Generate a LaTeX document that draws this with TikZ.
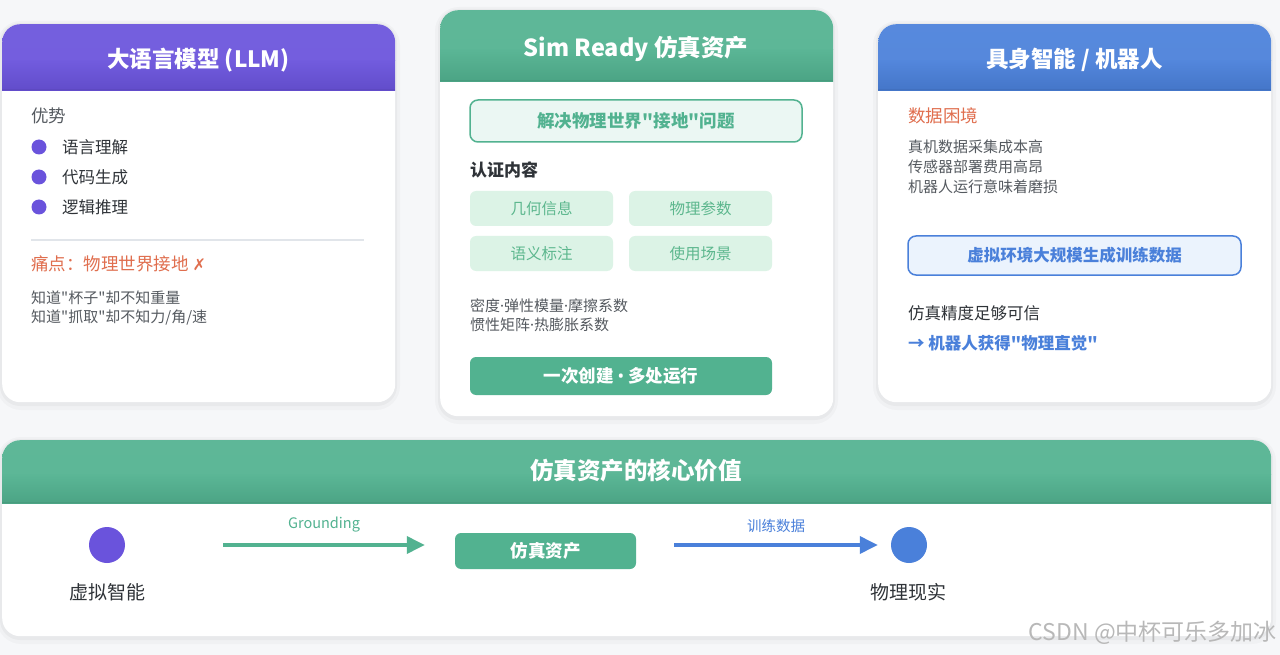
\documentclass[tikz,border=0pt]{standalone}
\usepackage{fontspec}
\setmainfont{Noto Sans CJK SC}[Ligatures=TeXOff]
\newfontfamily\latf{Noto Sans}[Ligatures=TeXOff]
\newfontfamily\symf{DejaVu Sans}
\usetikzlibrary{arrows.meta}
\definecolor{bgc}{HTML}{F6F7F9}
\definecolor{pur}{HTML}{6A53DC}
\definecolor{grn}{HTML}{52B290}
\definecolor{blu}{HTML}{4A80DA}
\definecolor{org}{HTML}{E06E4E}
\definecolor{txg}{HTML}{555A60}
\definecolor{txd}{HTML}{2F3338}
\definecolor{chipf}{HTML}{DCF3E6}
\definecolor{chipt}{HTML}{5DB78E}
\definecolor{gbox}{HTML}{EBF7F3}
\definecolor{bbox}{HTML}{EBF3FD}
\definecolor{rulec}{HTML}{E1E5EA}
\newcommand\fsz[1]{\fontsize{#1}{#1}\selectfont}
\newcommand\md{{\latf ·}}
\newcommand\softshadow[4]{%
  \fill[black,opacity=.022,rounded corners=24pt] (#1-5,#2-3) rectangle (#1+#3+5,#2+#4+8);
  \fill[black,opacity=.03,rounded corners=20pt] (#1-2,#2-1) rectangle (#1+#3+2,#2+#4+4);}
\tikzset{
  card/.style 2 args={anchor=north west, inner sep=0, fill=white, rounded corners=18pt,
    path picture={
      \shade[sharp corners, top color=#1!93!white, bottom color=#1!98!white]
        (path picture bounding box.north west) rectangle ([yshift={-#2*0.55pt}]path picture bounding box.north east);
      \shade[sharp corners, top color=#1!95!white, bottom color=#1!92!black]
        ([yshift={-#2*0.55pt}]path picture bounding box.north west) rectangle ([yshift={-#2*1pt}]path picture bounding box.north east);
      \fill[sharp corners, #1!80!black, opacity=.35] ([yshift={-#2*1pt+1.2pt}]path picture bounding box.north west) rectangle ([yshift={-#2*1pt}]path picture bounding box.north east);
    }},
  ttl/.style={text=white, font=\bfseries\fsz{22.5}, inner sep=0},
  txt/.style={anchor=west, inner sep=0},
  dot/.style={circle, fill=pur, minimum size=15pt, inner sep=0},
  chip/.style={fill=chipf, rounded corners=6pt, minimum width=143pt, minimum height=35pt, inner sep=0, text=chipt, font=\fsz{15.5}},
  garrow/.style={draw=grn, line width=3.5pt, -{Triangle[length=18pt,width=17pt]}},
  barrow/.style={draw=blu, line width=3.5pt, -{Triangle[length=18pt,width=17pt]}},
}
\begin{document}
\begin{tikzpicture}[x=1pt,y=-1pt]
\useasboundingbox (0,0) rectangle (1280,655);
\fill[bgc] (0,0) rectangle (1280,655);
% shadows
\softshadow{2}{24}{393}{378}
\softshadow{440}{10}{393}{406}
\softshadow{878}{24}{393}{378}
\softshadow{2}{440}{1269}{196}
% ---------- card 1 ----------
\node[card={pur}{66}, minimum width=393pt, minimum height=378pt] (llm) at (2,24) {};
\node[ttl] (llmt) at (198.5,60) {大语言模型 (LLM)};
\node[txt, text=txg, font=\fsz{17.5}] (adv) at (31,116) {优势};
\node[dot] (b1) at (39,147) {};
\node[dot] (b2) at (39,177) {};
\node[dot] (b3) at (39,207) {};
\node[txt, text=txd, font=\fsz{16.5}] (i1) at (62,147) {语言理解};
\node[txt, text=txd, font=\fsz{16.5}] (i2) at (62,177) {代码生成};
\node[txt, text=txd, font=\fsz{16.5}] (i3) at (62,207) {逻辑推理};
\draw[rulec, line width=1.5pt] (31,240) -- (364,240);
\node[txt, text=org, font=\fsz{17.5}] (pain) at (31,264) {痛点：物理世界接地 {\symf\fsz{16}✗}};
\node[txt, text=txg, font=\fsz{15}] (p1) at (31,298) {知道"杯子"却不知重量};
\node[txt, text=txg, font=\fsz{15}] (p2) at (31,318) {知道"抓取"却不知力/角/速};
% ---------- card 2 ----------
\node[card={grn}{71}, minimum width=393pt, minimum height=406pt] (sim) at (440,10) {};
\node[ttl, font=\bfseries\fsz{23.5}] (simt) at (636,49) {Sim Ready 仿真资产};
\node[draw=grn, line width=1.5pt, fill=gbox, rounded corners=8pt, minimum width=332pt, minimum height=42pt, inner sep=0,
      text=grn, font=\bfseries\fsz{17.5}] (solve) at (636,121) {解决物理世界"接地"问题};
\node[txt, text=txd, font=\bfseries\fsz{17}] (cert) at (470,170) {认证内容};
\node[chip] (c1) at (541.5,208.5) {几何信息};
\node[chip] (c2) at (700.5,208.5) {物理参数};
\node[chip] (c3) at (541.5,253.5) {语义标注};
\node[chip] (c4) at (700.5,253.5) {使用场景};
\node[txt, text=txg, font=\fsz{15}] (m1) at (470,306) {密度\md 弹性模量\md 摩擦系数};
\node[txt, text=txg, font=\fsz{15}] (m2) at (470,325) {惯性矩阵\md 热膨胀系数};
\node[fill=grn, rounded corners=6pt, minimum width=302pt, minimum height=38pt, inner sep=0,
      text=white, font=\bfseries\fsz{17.5}] (once) at (621,376) {一次创建 {\latf\bfseries •} 多处运行};
% ---------- card 3 ----------
\node[card={blu}{66}, minimum width=393pt, minimum height=378pt] (emb) at (878,24) {};
\node[ttl] (embt) at (1074.5,60) {具身智能 / 机器人};
\node[txt, text=org, font=\fsz{17.5}] (dil) at (908,116) {数据困境};
\node[txt, text=txg, font=\fsz{15}] (d1) at (908,147) {真机数据采集成本高};
\node[txt, text=txg, font=\fsz{15}] (d2) at (908,167) {传感器部署费用高昂};
\node[txt, text=txg, font=\fsz{15}] (d3) at (908,187) {机器人运行意味着磨损};
\node[draw=blu, line width=1.5pt, fill=bbox, rounded corners=8pt, minimum width=333pt, minimum height=39pt, inner sep=0,
      text=blu, font=\bfseries\fsz{16.5}] (virt) at (1074.5,255.5) {虚拟环境大规模生成训练数据};
\node[txt, text=txd, font=\fsz{16.5}] (prec) at (908,313) {仿真精度足够可信};
\node[txt, text=blu, font=\bfseries\fsz{16.5}] (intu) at (908,343) {→ 机器人获得"物理直觉"};
% ---------- bottom card ----------
\node[card={grn}{63}, minimum width=1269pt, minimum height=196pt] (core) at (2,440) {};
\node[ttl, font=\bfseries\fsz{23.5}] (coret) at (636,471) {仿真资产的核心价值};
\node[circle, fill=pur, minimum size=36pt, inner sep=0] (vdot) at (107,545) {};
\node[text=txd, font=\fsz{19}, inner sep=0] (vlab) at (107,592) {虚拟智能};
\node[fill=grn, rounded corners=6pt, minimum width=181pt, minimum height=36pt, inner sep=0,
      text=white, font=\bfseries\fsz{17.5}] (asset) at (545.5,551) {仿真资产};
\node[circle, fill=blu, minimum size=36pt, inner sep=0] (pdot) at (909,545) {};
\node[text=txd, font=\fsz{19}, inner sep=0] (plab) at (908,592) {物理现实};
\draw[garrow] ([xshift=98pt]vdot.east) -- ([xshift=-30pt,yshift=6pt]asset.west)
  node[midway, above=11pt, inner sep=0, text=grn, font=\fsz{14.5}] {Grounding};
\draw[barrow] ([xshift=38pt,yshift=6pt]asset.east) -- ([xshift=-13pt]pdot.west)
  node[midway, above=11pt, inner sep=0, text=blu, font=\fsz{14.5}] {训练数据};
% watermark
\node[anchor=east, inner sep=0, text=black!28, font=\fsz{23}] (wm) at (1277,633) {CSDN @中杯可乐多加冰};
\end{tikzpicture}
\end{document}
